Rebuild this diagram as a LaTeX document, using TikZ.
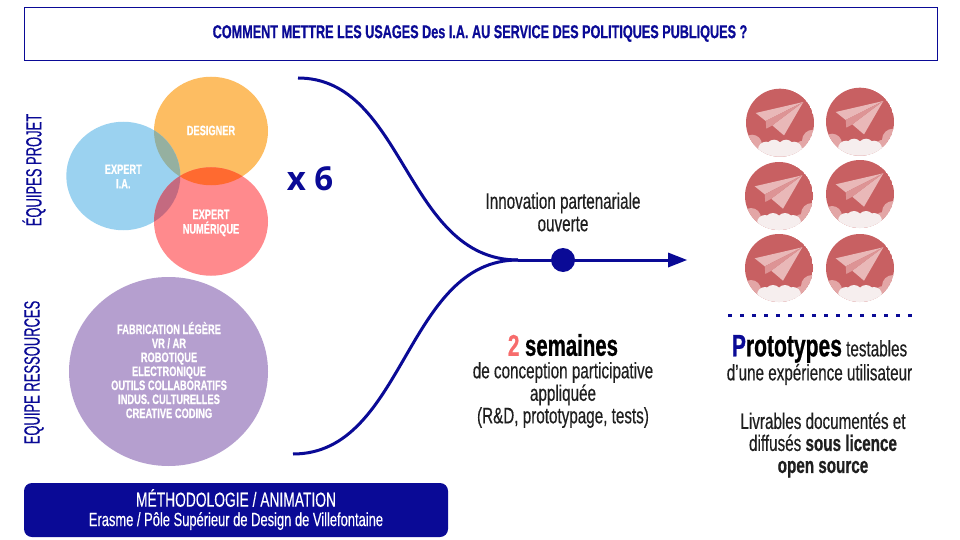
\documentclass[tikz,border=0pt]{standalone}
\usepackage{fontspec}
\usetikzlibrary{shapes.geometric}
\setmainfont[FakeStretch=0.68,UprightFeatures={FakeBold=0.35},BoldFeatures={FakeBold=0.7}]{Liberation Sans}
\newfontfamily\xsix{Open Sans}
\newfontfamily\sidefont[FakeStretch=0.59,FakeBold=0.3]{Liberation Sans}
\definecolor{navy}{HTML}{0A0A96}
\definecolor{cblue}{HTML}{9BD2F0}
\definecolor{corange}{HTML}{FDBD62}
\definecolor{cred}{HTML}{FF8A8D}
\definecolor{cpurple}{HTML}{B59FCF}
\definecolor{cbo}{HTML}{95B0A0}
\definecolor{cor}{HTML}{FF6A30}
\definecolor{cbr}{HTML}{C46A80}
\definecolor{cplane}{HTML}{C86062}
\definecolor{cplanel}{HTML}{E9B8B8}
\definecolor{cplaned}{HTML}{DD9495}
\definecolor{ccloud}{HTML}{E3A6A6}
\definecolor{cwhite}{HTML}{F6EEEE}
\definecolor{csalmon}{HTML}{F76C6C}
\tikzset{
  x=1pt,y=-1pt,
  venn/.style={ellipse,minimum width=114pt,minimum height=108.5pt,inner sep=0pt,text=white,font=\bfseries\fontsize{13.6}{14.5}\selectfont,align=center},
  side/.style={rotate=90,text=navy,font=\sidefont\fontsize{22}{22}\selectfont},
  body/.style={align=center,text=black!88,font=\fontsize{22.4}{22.5}\selectfont},
  flow/.style={draw=navy,line width=3pt},
  badge/.pic={
    \begin{scope}
      \clip (0,0) circle (34);
      \fill[cplane] (0,0) circle (34);
      \fill[ccloud] (33,18) circle (11);
      \fill[ccloud] (23,26) circle (8);
      \fill[ccloud] (-28,22) circle (10);
      \fill[ccloud] (-18,28) circle (7);
      \fill[ccloud] (-30,30) rectangle (30,36);
      \fill[cwhite] (-14,27) circle (8);
      \fill[cwhite] (-6,25) circle (8);
      \fill[cwhite] (6,25) circle (8);
      \fill[cwhite] (14,27) circle (8);
      \fill[cwhite] (-22,27) rectangle (22,36);
    \end{scope}
    \fill[cplanel] (23.3,-20.7) -- (-24.3,-9.7) -- (-14.3,-1.7) -- cycle;
    \fill[cplanel] (23.3,-20.7) -- (-7.7,2.7) -- (4,12.7) -- cycle;
    \fill[cplaned] (23.3,-20.7) -- (-14.3,-1.7) -- (-13.7,6) -- (-7.7,2.7) -- cycle;
  }
}
\begin{document}
\begin{tikzpicture}
\useasboundingbox (0,0) rectangle (960,540);
\fill[white] (0,0) rectangle (960,540);
% title
\node[draw=navy,line width=0.8pt,minimum width=913pt,minimum height=53pt,inner sep=0pt] (titlebox) at (480.5,34) {};
\node[text=navy,inner sep=0pt,font=\bfseries\fontsize{18.6}{20}\selectfont] (title) at (480,33.5) {COMMENT METTRE LES USAGES Des I.A. AU SERVICE DES POLITIQUES PUBLIQUES ?};
% venn
\node[venn,fill=corange] (designer) at (211,131) {};
\node[venn,fill=cblue] (expertia) at (123.3,176) {};
\node[venn,fill=cred] (expertnum) at (211,221.5) {};
\begin{scope}
  \clip (211,131) ellipse (57 and 54.25);
  \fill[cbo] (123.3,176) ellipse (57 and 54.25);
  \fill[cor] (211,221.5) ellipse (57 and 54.25);
\end{scope}
\begin{scope}
  \clip (123.3,176) ellipse (57 and 54.25);
  \fill[cbr] (211,221.5) ellipse (57 and 54.25);
\end{scope}
\node[venn] (designertext) at (211,130.5) {DESIGNER};
\node[venn] (expertiatext) at (123.3,176.5) {EXPERT\\I.A.};
\node[venn] (expertnumtext) at (211,223) {EXPERT\\NUMÉRIQUE};
\node[text=navy,font=\xsix\bfseries\fontsize{33}{36}\selectfont,inner sep=0pt] (xsix) at (310,179) {x 6};
% side labels
\node[side] (eqprojet) at (34,170) {ÉQUIPES PROJET};
\node[side] (eqres) at (34,372.5) {EQUIPE RESSOURCES};
% resources
\node[ellipse,fill=cpurple,minimum width=199pt,minimum height=189pt,inner sep=0pt] (res) at (168.5,371.5) {};
\node[text=white,align=center,font=\bfseries\fontsize{13.7}{14}\selectfont,inner sep=0pt] (restext) at (169,370) {FABRICATION LÉGÈRE\\VR / AR\\ROBOTIQUE\\ELECTRONIQUE\\OUTILS COLLABORATIFS\\INDUS. CULTURELLES\\CREATIVE CODING};
% methodology
\node[rounded corners=8pt,fill=navy,minimum width=424pt,minimum height=54pt,inner sep=0pt] (meth) at (236,510) {};
\node[text=white,inner sep=0pt,font=\fontsize{20.3}{22}\selectfont] (methtitle) at (236,498) {MÉTHODOLOGIE / ANIMATION};
\node[text=white,inner sep=0pt,font=\fontsize{19}{22}\selectfont] (methsub) at (236,521) {Erasme / Pôle Supérieur de Design de Villefontaine};
% flow
\coordinate (top) at (298,78);
\coordinate (bot) at (293,454);
\coordinate (merge) at (518,260);
\coordinate (end) at (687,260);
\draw[flow] (top) .. controls (405,78) and (405,260) .. (merge);
\draw[flow] (bot) .. controls (405,454) and (405,260) .. (merge);
\draw[flow] (merge) -- (670,260);
\fill[navy] (668,252.5) -- (end) -- (668,267.5) -- cycle;
\node[circle,fill=navy,minimum size=24pt,inner sep=0pt] (dot) at (563,260) {};
\node[body] (innov) at (563,212) {Innovation partenariale\\ouverte};
\node[body] (sem) at (563,381) {{\bfseries\fontsize{30}{30}\selectfont{\color{csalmon}2} \color{black}semaines}\\de conception participative\\appliquée\\(R\&D, prototypage, tests)};
% badges
\foreach \bx/\by in {780/122.7,860/121.7,779/196,860/194,779/268,860/268}
  \pic at (\bx,\by) {badge};
% dotted
\foreach \i in {0,...,15}
  \fill[navy] ({730+12*\i-1.6},314) rectangle ++(3.2,3.2);
% prototypes
\node[body,font=\fontsize{22.4}{24}\selectfont] (proto) at (819.5,360) {{\bfseries\fontsize{31}{31}\selectfont{\color{navy}P}\color{black}rototypes} testables\\d’une expérience utilisateur};
\node[body,font=\fontsize{22.4}{22}\selectfont] (livr) at (823,445) {Livrables documentés et\\diffusés {\bfseries sous licence}\\{\bfseries open source}};
\end{tikzpicture}
\end{document}
